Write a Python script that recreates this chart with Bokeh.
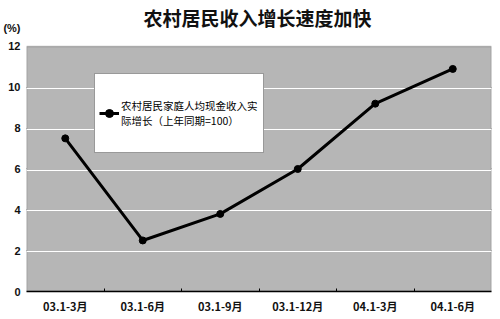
from bokeh.plotting import figure
from bokeh.models import (Range1d, FixedTicker, Label, Legend, LegendItem,
                          ColumnDataSource, BoxAnnotation)
from bokeh.embed import file_html
from bokeh.resources import INLINE

title_text = "农村居民收入增长速度加快"
unit_text = "(%)"
categories = ["03.1-3月", "03.1-6月", "03.1-9月", "03.1-12月", "04.1-3月", "04.1-6月"]
growth = [7.5, 2.5, 3.8, 6.0, 9.2, 10.9]
series_name = "农村居民家庭人均现金收入实\n际增长（上年同期=100）"
y_ticks = [0, 2, 4, 6, 8, 10, 12]

FONT = "Noto Sans CJK SC"
Y_MAX = 12
Y_TOP = Y_MAX + 46 / 20.42      # canvas top, so that the title can sit inside the frame
UNIT_Y = Y_MAX + 18 / 20.42     # position of the "(%)" unit label
TITLE_Y = Y_MAX + 28.5 / 20.42

xs = [i + 0.5 for i in range(len(categories))]
src = ColumnDataSource(dict(x=xs, y=growth))

p = figure(width=500, height=319, output_backend="svg", toolbar_location=None,
           x_range=Range1d(0, len(categories)), y_range=Range1d(0, Y_TOP),
           min_border_left=26, min_border_right=9, min_border_top=0,
           min_border_bottom=28, background_fill_color="white",
           border_fill_color="white", outline_line_color=None)
p.title.visible = False

# grey plot area
p.add_layout(BoxAnnotation(left=0, right=len(categories), bottom=0, top=Y_MAX,
                           fill_color="#b6b6b6", fill_alpha=1,
                           line_color="#3a3a3a", line_width=1.5, level="underlay"))

# highlight lines just below the grid lines
p.hspan(y=[v - 0.055 for v in y_ticks[1:-1]], line_color="white", line_width=1)

p.ygrid.ticker = FixedTicker(ticks=y_ticks[1:-1])
p.ygrid.grid_line_color = "#2a2a2a"
p.ygrid.grid_line_width = 1
p.xgrid.visible = False

# x axis
p.xaxis.ticker = FixedTicker(ticks=xs, minor_ticks=list(range(1, len(categories))))
p.xaxis.major_label_overrides = {x: c for x, c in zip(xs, categories)}
p.xaxis.major_tick_in = 0
p.xaxis.major_tick_out = 0
p.xaxis.minor_tick_in = 3
p.xaxis.minor_tick_out = 0
p.xaxis.minor_tick_line_color = "black"
p.xaxis.axis_line_color = "black"
p.xaxis.axis_line_width = 1.5
p.xaxis.major_label_standoff = 6
p.xaxis.major_label_text_font = FONT
p.xaxis.major_label_text_font_size = "11px"
p.xaxis.major_label_text_font_style = "bold"
p.xaxis.major_label_text_color = "#111111"

# y axis (with the unit shown as an extra tick label above the top)
p.yaxis.ticker = FixedTicker(ticks=y_ticks + [UNIT_Y])
p.yaxis.major_label_overrides = {UNIT_Y: unit_text}
p.yaxis.major_tick_in = 0
p.yaxis.major_tick_out = 0
p.yaxis.minor_tick_line_color = None
p.yaxis.axis_line_color = None
p.yaxis.major_label_standoff = 6
p.yaxis.major_label_text_font = "Liberation Sans"
p.yaxis.major_label_text_font_size = "11px"
p.yaxis.major_label_text_font_style = "bold"
p.yaxis.major_label_text_color = "#111111"

ln = p.line("x", "y", source=src, line_color="black", line_width=3)
sc = p.scatter("x", "y", source=src, size=7, fill_color="black", line_color="black")

legend = Legend(items=[LegendItem(label=series_name, renderers=[ln, sc])],
                location=(68, 138), padding=4, spacing=0, margin=0,
                glyph_width=20, label_standoff=2, label_width=138, label_height=70,
                label_text_font=FONT, label_text_font_size="10.5px",
                label_text_line_height=1.05, label_text_color="black",
                border_line_color="#333333", border_line_width=1,
                background_fill_color="white", background_fill_alpha=1)
p.add_layout(legend)

p.add_layout(Label(x=len(categories) / 2 - 0.02, y=TITLE_Y, text=title_text,
                   text_font=FONT, text_font_size="19px", text_font_style="bold",
                   text_align="center", text_baseline="middle", text_color="#111111"))

open("out.html", "w").write(file_html(p, INLINE))
